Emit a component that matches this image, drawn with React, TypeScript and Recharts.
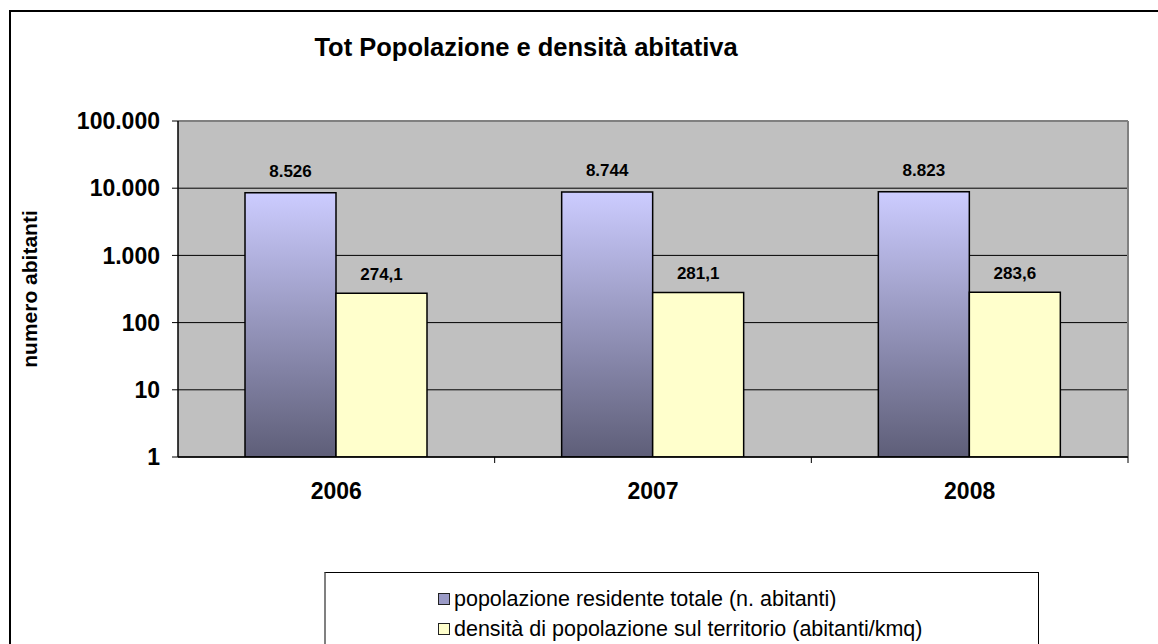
import React from 'react';
import { BarChart, Bar, XAxis, YAxis, CartesianGrid, LabelList, Legend } from 'recharts';

const years = ['2006', '2007', '2008'];
const popolazione = [8526, 8744, 8823];
const densita = [274.1, 281.1, 283.6];
const yTicks = [1, 10, 100, 1000, 10000, 100000];
const seriesNames = [
  'popolazione residente totale (n. abitanti)',
  'densità di popolazione sul territorio (abitanti/kmq)',
];

const data = years.map((y, i) => ({ year: y, pop: popolazione[i], dens: densita[i] }));

const FONT = '"Liberation Sans", Arial, Helvetica, sans-serif';

const fmtInt = (v: number) => Math.round(v).toString().replace(/\B(?=(\d{3})+(?!\d))/g, '.');
const fmtDec = (v: number) => Number(v).toFixed(1).replace('.', ',');

const XTick = (props: any) => {
  const { x, y, payload, index, width, visibleTicksCount } = props;
  const n = visibleTicksCount || years.length;
  const band = (width || 950) / n;
  return (
    <g>
      {index > 0 && <line x1={x - band / 2} x2={x - band / 2} y1={y} y2={y + 6} stroke="#000" strokeWidth={1} />}
      {index === n - 1 && <line x1={x + band / 2} x2={x + band / 2} y1={y} y2={y + 6} stroke="#000" strokeWidth={1} />}
      <text x={x} y={y + 42} textAnchor="middle" fontFamily={FONT} fontWeight="bold" fontSize={23} fill="#000">
        {payload.value}
      </text>
    </g>
  );
};

const YLabel = (props: any) => {
  const vb = props.viewBox || { y: 121, height: 336 };
  const cy = vb.y + vb.height / 2;
  const x = 37;
  return (
    <text x={x} y={cy} transform={`rotate(-90 ${x} ${cy})`} textAnchor="middle" fontFamily={FONT} fontWeight="bold" fontSize={21} fill="#000">
      numero abitanti
    </text>
  );
};

const LegendBox = () => {
  const colors = ['#9A9AC6', '#FFFFCC'];
  return (
    <div
      style={{
        width: 715,
        height: 80,
        boxSizing: 'border-box',
        borderTop: '1px solid #000',
        borderRight: '1px solid #000',
        borderLeft: '2px solid #808080',
        background: '#fff',
        fontFamily: FONT,
        fontSize: 21.5,
        color: '#000',
        position: 'relative',
      }}
    >
      {seriesNames.map((name, i) => (
        <div
          key={name}
          style={{ position: 'absolute', left: 112, top: 12 + i * 30, height: 28, display: 'flex', alignItems: 'center', whiteSpace: 'nowrap' }}
        >
          <span style={{ display: 'inline-block', width: 10, height: 10, background: colors[i], border: '1px solid #222', marginRight: 4 }} />
          <span>{name}</span>
        </div>
      ))}
    </div>
  );
};

export default function App() {
  return (
    <div style={{ position: 'absolute', left: 0, top: 0, width: 1158, height: 644, overflow: 'hidden', background: '#fff' }}>
      <div
        style={{
          position: 'absolute',
          left: 9,
          top: 10,
          width: 1300,
          height: 800,
          borderLeft: '2px solid #000',
          borderTop: '2px solid #000',
        }}
      />
      <div
        style={{
          position: 'absolute',
          left: 0,
          top: 35,
          width: 1052,
          textAlign: 'center',
          fontFamily: FONT,
          fontWeight: 'bold',
          fontSize: 25.5,
          lineHeight: '25px',
          color: '#000',
          whiteSpace: 'nowrap',
        }}
      >
        Tot Popolazione e densità abitativa
      </div>
      <div style={{ position: 'absolute', left: 0, top: 0 }}>
        <BarChart
          width={1158}
          height={644}
          data={data}
          margin={{ top: 121, right: 30, bottom: 137, left: 58 }}
          barGap={0}
          barSize={91}
        >
          <defs>
            <linearGradient id="gradPop" x1="0" y1="0" x2="0" y2="1">
              <stop offset="0%" stopColor="#CCCCFF" />
              <stop offset="100%" stopColor="#5E5E78" />
            </linearGradient>
          </defs>
          <CartesianGrid fill="#C0C0C0" fillOpacity={1} stroke="#000" strokeWidth={1} vertical={false} />
          <CartesianGrid
            fill="none"
            stroke="#808080"
            strokeWidth={2}
            horizontalCoordinatesGenerator={({ offset }: any) => [offset.top]}
            verticalCoordinatesGenerator={({ offset }: any) => [offset.left + offset.width]}
          />
          <XAxis
            dataKey="year"
            height={50}
            tickSize={0}
            tickMargin={0}
            tickLine={false}
            axisLine={{ stroke: '#000', strokeWidth: 1.5 }}
            tick={<XTick />}
            interval={0}
          />
          <YAxis
            scale="log"
            domain={[1, 100000]}
            ticks={yTicks}
            allowDataOverflow
            width={120}
            tickSize={6}
            tickMargin={12}
            tickLine={{ stroke: '#000' }}
            axisLine={{ stroke: '#000', strokeWidth: 1.5 }}
            tickFormatter={fmtInt}
            tick={{ fontFamily: FONT, fontWeight: 'bold', fontSize: 23, fill: '#000' }}
            interval={0}
            label={YLabel}
          />
          <Legend
            layout="vertical"
            align="center"
            verticalAlign="middle"
            content={<LegendBox />}
            wrapperStyle={{ left: 324, top: 572, width: 715, height: 80 }}
          />
          <Bar dataKey="pop" name={seriesNames[0]} fill="url(#gradPop)" stroke="#000" strokeWidth={1.5} isAnimationActive={false}>
            <LabelList
              dataKey="pop"
              position="top"
              offset={16}
              formatter={(v: any) => fmtInt(Number(v))}
              style={{ fontFamily: FONT, fontWeight: 'bold', fontSize: 17, fill: '#000' }}
            />
          </Bar>
          <Bar dataKey="dens" name={seriesNames[1]} fill="#FFFFCC" stroke="#000" strokeWidth={1.5} isAnimationActive={false}>
            <LabelList
              dataKey="dens"
              position="top"
              offset={13}
              formatter={(v: any) => fmtDec(Number(v))}
              style={{ fontFamily: FONT, fontWeight: 'bold', fontSize: 17, fill: '#000' }}
            />
          </Bar>
        </BarChart>
      </div>
    </div>
  );
}
